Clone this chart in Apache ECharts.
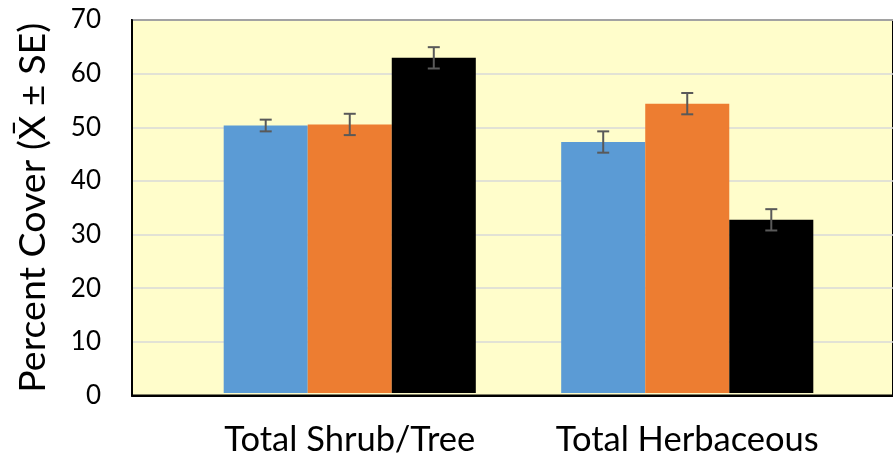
<!DOCTYPE html>
<html><head><meta charset="utf-8">
<script src="https://cdn.jsdelivr.net/npm/echarts@6/dist/echarts.min.js"></script>
<style>html,body{margin:0;padding:0;background:#fff}#c{width:893px;height:457px}</style>
</head><body><div id="c"></div>
<script>
const categories = ['Total Shrub/Tree', 'Total Herbaceous'];
const blueVals = [50.2, 47.1];
const orangeVals = [50.4, 54.3];
const blackVals = [62.9, 32.5];
const blueSE = [1.1, 2.0];
const orangeSE = [2.0, 2.0];
const blackSE = [2.0, 2.0];
const yTicks = {min: 0, max: 70, interval: 10};

const FONT = 'Lato';
const GAP = 0.253;
const seriesVals = [blueVals, orangeVals, blackVals];
const seriesSE = [blueSE, orangeSE, blackSE];
const colors = ['#5B9BD5', '#ED7D31', '#000000'];

const chart = echarts.init(document.getElementById('c'));
const series = [];
seriesVals.forEach((vals, si) => {
  series.push({
    type: 'bar', xAxisIndex: 1, yAxisIndex: 1,
    data: vals, barGap: '0%', barCategoryGap: (GAP * 100) + '%',
    itemStyle: {color: colors[si]}, silent: true
  });
});
seriesVals.forEach((vals, si) => {
  series.push({
    type: 'custom', xAxisIndex: 1, yAxisIndex: 1, silent: true, z: 10,
    data: vals.map((v, i) => [i, v, seriesSE[si][i]]),
    renderItem: function (params, api) {
      const ci = api.value(0), v = api.value(1), se = api.value(2);
      const band = api.size([1, 0])[0];
      const bw = band * (1 - GAP) / 3;
      const c = api.coord([ci, v]);
      const x = c[0] + (si - 1) * bw;
      const yt = api.coord([ci, v + se])[1];
      const yb = api.coord([ci, v - se])[1];
      const cap = 6;
      const st = {stroke: '#595959', lineWidth: 2};
      return {type: 'group', children: [
        {type: 'line', shape: {x1: x, y1: yt, x2: x, y2: yb}, style: st},
        {type: 'line', shape: {x1: x - cap, y1: yt, x2: x + cap, y2: yt}, style: st},
        {type: 'line', shape: {x1: x - cap, y1: yb, x2: x + cap, y2: yb}, style: st}
      ]};
    }
  });
});

chart.setOption({
  animation: false,
  textStyle: {fontFamily: FONT},
  grid: [
    {left: 132, right: -10, top: 20, bottom: 61.5, show: true, backgroundColor: '#FFFDCB', borderColor: '#000000', borderWidth: 2, z: 0},
    {left: 181, width: 675, top: 20, bottom: 61.5}
  ],
  xAxis: [
    {type: 'value', gridIndex: 0, min: 0, max: 1,
     axisLine: {show: true, onZero: false, lineStyle: {color: '#000', width: 2}},
     axisTick: {show: false}, axisLabel: {show: false}, splitLine: {show: false}},
    {type: 'category', gridIndex: 1, data: categories,
     axisLine: {show: false}, axisTick: {show: false},
     axisLabel: {color: '#000', fontSize: 34.5, margin: 29, fontFamily: FONT, interval: 0, hideOverlap: false}}
  ],
  yAxis: [
    {type: 'value', gridIndex: 0, min: yTicks.min, max: yTicks.max, interval: yTicks.interval,
     axisLine: {show: true, lineStyle: {color: '#000', width: 2}}, axisTick: {show: false},
     splitLine: {lineStyle: {color: '#D9D9D9', width: 1.5}},
     axisLabel: {color: '#000', fontSize: 26, margin: 31, fontFamily: FONT},
     name: 'Percent Cover (X\u0304 \u00B1 SE)', nameLocation: 'middle', nameGap: 80,
     nameTextStyle: {color: '#000', fontSize: 37.5, fontFamily: FONT}},
    {type: 'value', gridIndex: 1, min: yTicks.min, max: yTicks.max, interval: yTicks.interval, show: false, splitLine: {show: false}}
  ],
  series: series
});
</script></body></html>
